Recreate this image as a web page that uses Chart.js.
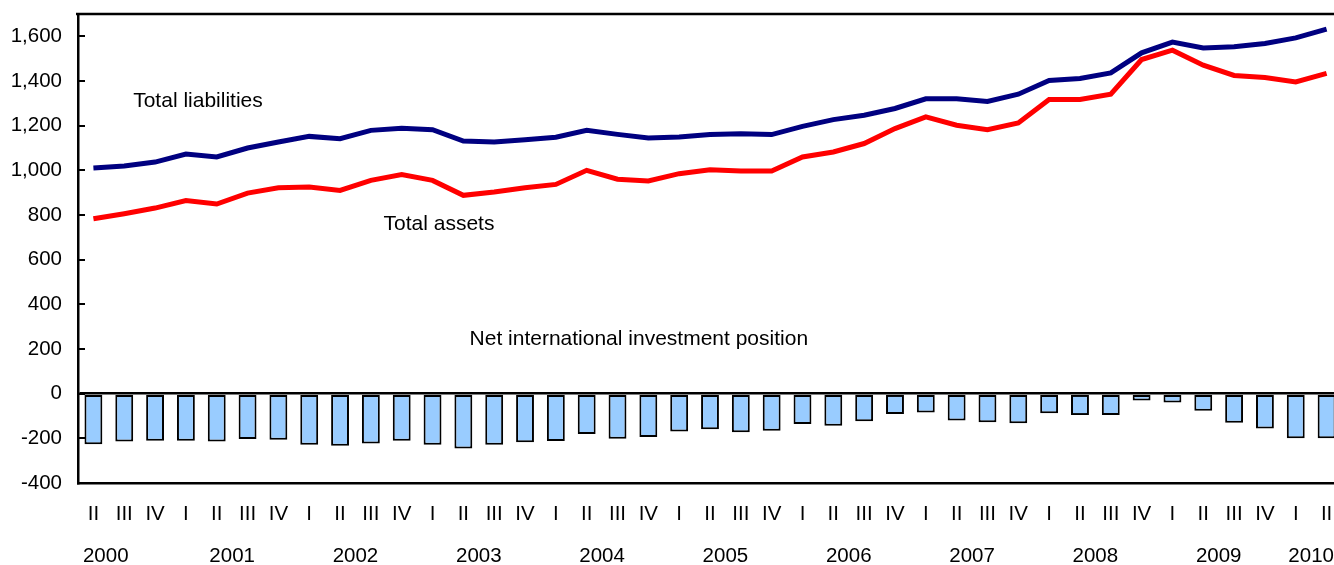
<!DOCTYPE html>
<html>
<head>
<meta charset="utf-8">
<script src="https://cdn.jsdelivr.net/npm/chart.js@4/dist/chart.umd.min.js"></script>
<style>
    html, body { margin: 0; padding: 0; background: #fff; overflow: hidden; }
    #wrap { position: absolute; left: 0; top: 0; }
</style>
</head>
<body>
<div id="wrap"><canvas id="iipChart" width="1342" height="565"></canvas></div>
<script>
const quarters = [
    'II', 'III', 'IV',
    'I', 'II', 'III', 'IV',
    'I', 'II', 'III', 'IV',
    'I', 'II', 'III', 'IV',
    'I', 'II', 'III', 'IV',
    'I', 'II', 'III', 'IV',
    'I', 'II', 'III', 'IV',
    'I', 'II', 'III', 'IV',
    'I', 'II', 'III', 'IV',
    'I', 'II', 'III', 'IV',
    'I', 'II'
];

const years = ['2000', '2001', '2002', '2003', '2004', '2005', '2006', '2007', '2008', '2009', '2010'];
// where each year label sits, in quarter index units
const yearAt = [0.4, 4.5, 8.5, 12.5, 16.5, 20.5, 24.5, 28.5, 32.5, 36.5, 39.5];

const liabilities = [
    1010, 1019, 1037,
    1073, 1060, 1100, 1127,
    1152, 1142, 1179, 1188,
    1182, 1131, 1127, 1137,
    1148, 1179, 1161, 1145,
    1149, 1160, 1164, 1160,
    1197, 1227, 1247, 1277,
    1320, 1320, 1308, 1341,
    1402, 1411, 1436, 1526,
    1574, 1548, 1553, 1568,
    1593, 1632
];

const assets = [
    783, 806, 831,
    865, 849, 898, 922,
    925, 910, 955, 981,
    955, 888, 903, 922,
    937, 1000, 960, 952,
    985, 1003, 997, 997,
    1060, 1082, 1120, 1187,
    1239, 1202, 1182, 1212,
    1317, 1317, 1341, 1496,
    1538, 1471, 1425, 1416,
    1396, 1434
];

const netPosition = [
    -226, -214, -211,
    -211, -214, -203, -206,
    -229, -233, -223, -211,
    -229, -245, -229, -218,
    -212, -181, -202, -194,
    -169, -159, -173, -166,
    -136, -144, -123, -91,
    -84, -120, -128, -132,
    -88, -96, -96, -31,
    -39, -76, -130, -156,
    -200, -200
];

const yTicks = [-400, -200, 0, 200, 400, 600, 800, 1000, 1200, 1400, 1600];

// text labels inside the plot, in data units (quarter index, value)
const notes = [
    { text: 'Total liabilities', at: 1.29, value: 1310 },
    { text: 'Total assets', at: 9.41, value: 758 },
    { text: 'Net international investment position', at: 12.2, value: 242 }
];

const FONT = '"Liberation Sans", Arial, sans-serif';
const SIZE = 20.5;

// keep labels from shrinking the plot area sideways
function noSidePad(scale) {
    scale.paddingLeft = 0;
    scale.paddingRight = 0;
}

const framePlugin = {
    id: 'frame',
    beforeDatasetsDraw(chart) {
        const { ctx, chartArea, scales } = chart;
        ctx.save();
        ctx.strokeStyle = '#000';
        ctx.lineWidth = 2.5;
        ctx.beginPath();
        ctx.moveTo(chartArea.left - 2, chartArea.top);
        ctx.lineTo(chartArea.right, chartArea.top);
        ctx.stroke();
        // short tick marks pointing into the plot
        ctx.lineWidth = 2;
        for (const v of yTicks) {
            const y = Math.round(scales.y.getPixelForValue(v));
            ctx.beginPath();
            ctx.moveTo(chartArea.left, y);
            ctx.lineTo(chartArea.left + 7, y);
            ctx.stroke();
        }
        ctx.restore();
    },
    afterDatasetsDraw(chart) {
        const { ctx, scales } = chart;
        ctx.save();
        ctx.fillStyle = '#000';
        ctx.font = '21px ' + FONT;
        ctx.textAlign = 'left';
        ctx.textBaseline = 'middle';
        for (const n of notes) {
            ctx.fillText(n.text, scales.x.getPixelForValue(n.at), scales.y.getPixelForValue(n.value));
        }
        ctx.restore();
    }
};

const ctx = document.getElementById('iipChart').getContext('2d');
const myChart = new Chart(ctx, {
    data: {
        labels: quarters,
        datasets: [
            {
                type: 'line',
                label: 'Total liabilities',
                data: liabilities,
                borderColor: '#000080',
                borderWidth: 5,
                pointRadius: 0,
                tension: 0,
                order: 1
            },
            {
                type: 'line',
                label: 'Total assets',
                data: assets,
                borderColor: '#FF0000',
                borderWidth: 5,
                pointRadius: 0,
                tension: 0,
                order: 2
            },
            {
                type: 'bar',
                label: 'Net international investment position',
                data: netPosition,
                backgroundColor: '#99CCFF',
                borderColor: '#000',
                borderWidth: 2,
                borderSkipped: false,
                barPercentage: 0.58,
                categoryPercentage: 1,
                order: 3
            }
        ]
    },
    options: {
        responsive: false,
        animation: false,
        devicePixelRatio: 1,
        layout: { padding: { top: 14, left: 0, right: 0, bottom: 0 } },
        plugins: {
            legend: { display: false },
            tooltip: { enabled: false }
        },
        scales: {
            x: {
                type: 'category',
                position: 'bottom',
                weight: 0,
                grid: { display: false, drawTicks: false },
                border: { display: true, color: '#000', width: 2.5 },
                ticks: {
                    color: '#000',
                    font: { family: FONT, size: SIZE },
                    padding: 19,
                    autoSkip: false,
                    maxRotation: 0
                },
                afterFit(scale) { scale.height = 50; noSidePad(scale); }
            },
            xYear: {
                type: 'linear',
                position: 'bottom',
                weight: 1,
                min: -0.5,
                max: quarters.length - 0.5,
                grid: { display: false, drawTicks: false },
                border: { display: false },
                ticks: {
                    color: '#000',
                    font: { family: FONT, size: SIZE },
                    padding: 11,
                    autoSkip: false,
                    maxRotation: 0,
                    callback: (value, index) => years[index]
                },
                afterBuildTicks(scale) {
                    scale.ticks = yearAt.map(v => ({ value: v }));
                },
                afterFit(scale) { scale.height = 32; noSidePad(scale); }
            },
            y: {
                min: -400,
                max: 1700,
                grid: {
                    drawTicks: false,
                    lineWidth: 2.5,
                    color: (c) => (c.tick && c.tick.value === 0 ? '#000' : 'rgba(0,0,0,0)')
                },
                border: { display: true, color: '#000', width: 2.5 },
                ticks: {
                    color: '#000',
                    font: { family: FONT, size: SIZE },
                    padding: 16,
                    callback: (v) => v.toLocaleString('en-US')
                },
                afterBuildTicks(scale) {
                    scale.ticks = yTicks.map(v => ({ value: v }));
                },
                afterFit(scale) {
                    scale.width = 78;
                    scale.paddingTop = 0;
                    scale.paddingBottom = 0;
                }
            }
        }
    },
    plugins: [framePlugin]
});
</script>
</body>
</html>
